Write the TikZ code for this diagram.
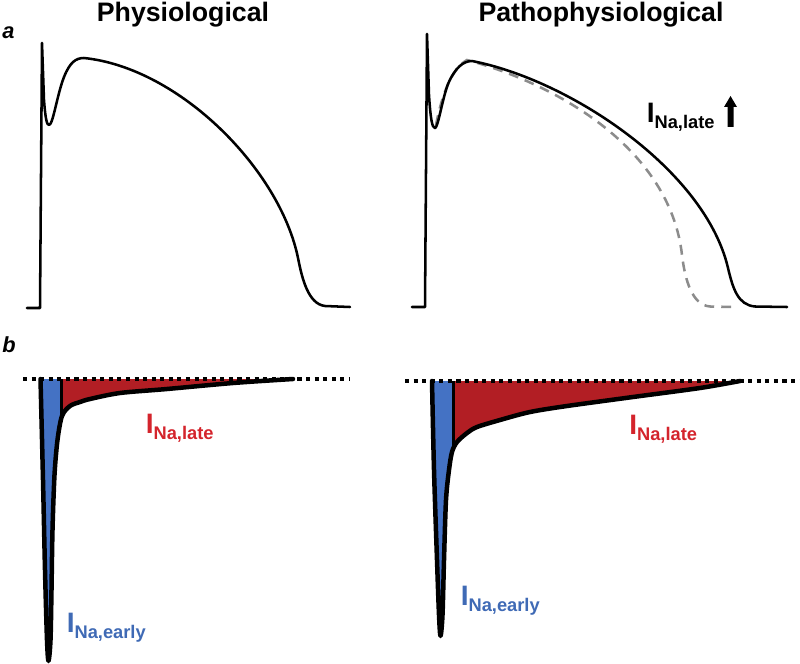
\documentclass[tikz,border=0pt]{standalone}
\usepackage{fontspec}
\setmainfont{Liberation Sans}
\definecolor{earlyblue}{RGB}{68,114,196}
\definecolor{earlytext}{RGB}{63,106,181}
\definecolor{latered}{RGB}{178,30,36}
\definecolor{latetext}{RGB}{212,36,44}
\definecolor{prevgray}{RGB}{140,140,140}
\newcommand{\inalabel}[1]{{\fontsize{20}{20}\selectfont I}\raisebox{-4.5pt}{\fontsize{13}{14}\selectfont #1}}
\tikzset{
  aptrace/.style={line width=1.8pt, line join=round, line cap=round},
  prevtrace/.style={prevgray, line width=1.8pt, dash pattern=on 7pt off 5pt},
  spikeline/.style={line width=3.2pt, line join=round, line cap=round},
  spikesep/.style={line width=2.1pt},
  zeroline/.style={line width=2.9pt, dash pattern=on 2.9pt off 3.2pt},
  ilabel/.style={anchor=base west, inner sep=0pt, font=\bfseries},
  paneltitle/.style={anchor=base, inner sep=0pt, font=\fontsize{19}{22}\selectfont\bfseries},
  panelletter/.style={anchor=base west, inner sep=0pt, font=\fontsize{15.5}{18}\selectfont\bfseries\itshape}
}
\begin{document}
\begin{tikzpicture}[x=0.025cm, y=-0.025cm]
\useasboundingbox (0,0) rectangle (800,663);

\node[paneltitle] (physio) at (183,22) {Physiological};
\node[paneltitle] (patho) at (601,22) {Pathophysiological};
\node[panelletter] (pa) at (2,39) {a};
\node[panelletter] (pb) at (2,352) {b};

\draw[aptrace] (27,308) -- (40,308) -- (42,43) -- (44,100) .. controls (45.5,120) and (47,125) .. (49,125) .. controls (53,125) and (57,95) .. (64,77) .. controls (70,62) and (76,58) .. (84,58) .. controls (180,68) and (280,170) .. (298,258) .. controls (302,278) and (308,304) .. (325,306) -- (350,307);

\draw[prevtrace] (436,125) .. controls (440,104) and (449,70) .. (467,60) .. controls (560,85) and (670,150) .. (682,255) .. controls (685,280) and (692,305) .. (710,306.5) -- (733,307);
\draw[aptrace] (412,307) -- (425,307) -- (427,34) -- (429,95) .. controls (430.5,118) and (432,128) .. (435,128) .. controls (438,128) and (442,100) .. (448,84) .. controls (455,68) and (463,61) .. (472,61) .. controls (570,80) and (705,170) .. (728,268) .. controls (733,289) and (738,305) .. (755,306.5) -- (787,307);

\node[ilabel] (latea) at (646.5,122) {\inalabel{Na,late}};
\fill (727.5,127) -- (727.5,107) -- (724,107) -- (730.5,96) -- (737,107) -- (733.5,107) -- (733.5,127) -- cycle;

\fill[latered] (61.5,379) -- plot[smooth] coordinates {(61.5,415) (70,406) (80,402) (90,399) (120,393) (167,389) (233,383) (293,379)} -- cycle;
\fill[earlyblue] (40.5,379) -- plot[smooth] coordinates {(40.5,379) (43,480) (45,570) (47,640) (48.5,661) (50.5,640) (51.5,590) (52.5,530) (54.5,475) (57.5,440) (61.5,416)} -- (61.5,379) -- cycle;
\draw[spikeline] plot[smooth] coordinates {(40.5,379) (43,480) (45,570) (47,640) (48.5,661) (50.5,640) (51.5,590) (52.5,530) (54.5,475) (57.5,440) (62,416) (70,406) (80,402) (90,399) (120,393) (167,389) (233,383) (293,379)};
\draw[spikesep] (61.5,379) -- (61.5,416);
\draw[zeroline] (23,379) -- (350,379);

\fill[latered] (453.5,381) -- plot[smooth] coordinates {(453.5,446) (457,442) (467,433) (477,427) (500,420) (530,412) (567,406) (633,397) (700,388) (740,381)} -- cycle;
\fill[earlyblue] (432,381) -- plot[smooth] coordinates {(432,381) (434,470) (437,560) (439,615) (440.5,636) (442.5,615) (444,560) (446,500) (449,470) (452,452)} -- (453.5,381) -- cycle;
\draw[spikeline] plot[smooth] coordinates {(432,381) (434,470) (437,560) (439,615) (440.5,636) (442.5,615) (444,560) (446,500) (449,470) (452,452) (457,442) (467,433) (477,427) (500,420) (530,412) (567,406) (633,397) (700,388) (740,381)};
\draw[spikesep] (453.5,381) -- (453.5,446);
\draw[zeroline] (405,381) -- (800,381);

\node[ilabel, text=latetext] (lateb) at (145.5,433) {\inalabel{Na,late}};
\node[ilabel, text=earlytext] (earlyb) at (66.5,632) {\inalabel{Na,early}};
\node[ilabel, text=latetext] (latec) at (629,434) {\inalabel{Na,late}};
\node[ilabel, text=earlytext] (earlyc) at (460.5,605) {\inalabel{Na,early}};
\end{tikzpicture}
\end{document}
